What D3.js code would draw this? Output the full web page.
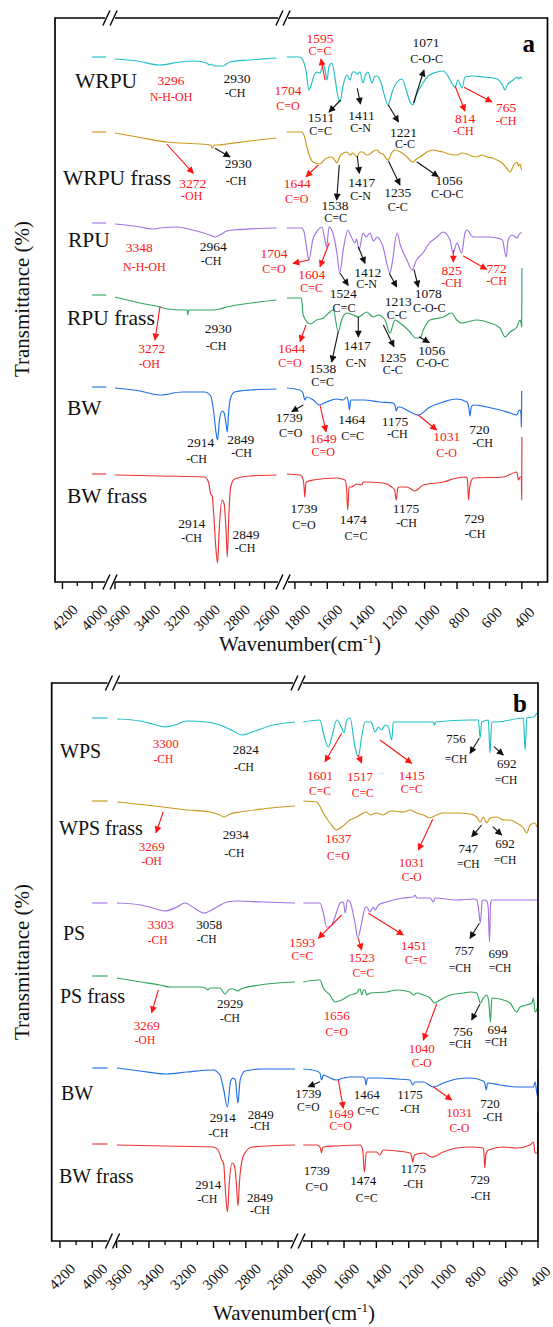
<!DOCTYPE html>
<html><head><meta charset="utf-8">
<script src="https://cdn.jsdelivr.net/npm/d3@7"></script>
<style>body{margin:0;background:#fff} svg{display:block} svg text{font-family:"Liberation Serif","DejaVu Serif",serif}</style>
</head><body><svg id="c" width="553" height="1327" font-family="Liberation Serif, DejaVu Serif, serif"></svg>
<script>
// ---------- data ----------
const tickMajor = [4200,4000,3600,3400,3200,3000,2800,2600,1800,1600,1400,1200,1000,800,600,400];
const tickMinorA = [4100,3500,3300,3100,2900,2700,1700,1500,1300,1100,900,700,500,300];
const tickMinorB = [4100,3500,3300,3100,2900,2700,1700,1500,1300,1100,900,700,500];
const seriesA = ["WRPU","WRPU frass","RPU","RPU frass","BW","BW frass"];
const seriesB = ["WPS","WPS frass","PS","PS frass","BW","BW frass"];
const offsetsA = [525,450,359,287,195,108];
const offsetsB = [523,440,338,265,173,97];

const aWRPU = [[4000,0],[3905,0],
 [3600,-2],[3450,-4],[3300,-8],[3167,-5],[3067,-4],[2987,-6],[2967,-8],[2955,-7],[2940,-9],[2880,-9],[2833,-5],[2700,-3],[2520,-1],
 [1850,0],[1770,0],[1751,-3],[1730,-15],[1714,-33],[1700,-28],[1680,-18],[1664,-15],[1645,-16],[1627,-8],[1615,-12],[1602,-23],[1590,-10],[1572,-6],[1555,-18],[1540,-35],[1522,-45],[1505,-30],[1479,-18],[1460,-23],[1445,-15],[1430,-15],[1415,-17],[1399,-15],[1380,-26],[1365,-18],[1349,-15],[1325,-26],[1310,-20],[1294,-19],[1270,-25],[1245,-40],[1226,-48],[1200,-35],[1170,-25],[1139,-22],[1115,-32],[1090,-45],[1072,-48],[1050,-38],[1010,-26],[970,-18],[923,-15],[886,-14],[860,-18],[843,-23],[812,-30],[794,-23],[769,-31],[751,-20],[700,-19],[640,-20],[580,-21],[553,-22],[520,-28],[504,-33],[490,-28],[454,-23],[430,-20],[420,-22],[410,-20],[400,-22]];
const aWRPUfrass = [[4000,0],[3905,0],
 [3600,-1],[3450,-5],[3253,-10],[3033,-12],[2960,-13],[2947,-16],[2935,-13],[2913,-13],[2853,-12],[2700,-9],[2520,-6],
 [1850,0],[1760,0],[1740,-5],[1726,-15],[1689,-30],[1646,-32],[1620,-28],[1602,-26],[1572,-25],[1555,-28],[1541,-31],[1525,-25],[1510,-22],[1479,-20],[1460,-23],[1442,-21],[1417,-25],[1400,-20],[1380,-20],[1360,-23],[1337,-22],[1315,-19],[1294,-18],[1275,-21],[1257,-22],[1226,-28],[1200,-20],[1183,-18],[1160,-19],[1139,-21],[1109,-25],[1072,-30],[1050,-27],[1028,-25],[985,-20],[948,-18],[920,-19],[886,-20],[850,-22],[800,-23],[770,-21],[738,-22],[710,-24],[677,-25],[650,-23],[615,-25],[580,-26],[553,-28],[530,-30],[516,-32],[490,-37],[473,-40],[450,-33],[430,-30],[420,-34],[411,-32],[405,-36],[400,-38]];
const aRPU = [[4000,0],[3905,0],
 [3600,-1],[3433,-4],[3353,-6],[3300,-5],[3187,-4],[3080,-7],[2967,-12],[2933,-14],[2887,-11],[2853,-8],[2813,-7],[2520,-5],
 [1850,-5],[1760,-5],[1745,-8],[1726,-27],[1714,-37],[1690,-17],[1658,-7],[1633,-4],[1615,-17],[1604,-24],[1590,-4],[1570,-8],[1541,-30],[1524,-50],[1500,-25],[1473,-7],[1460,-11],[1430,-20],[1420,-16],[1404,-27],[1380,-10],[1360,-14],[1337,-10],[1315,-18],[1294,-14],[1260,-22],[1213,-50],[1200,-40],[1170,-10],[1150,-22],[1109,-37],[1078,-47],[1050,-37],[1010,-30],[970,-20],[923,-14],[886,-9],[843,-17],[825,-30],[800,-20],[772,-30],[751,-10],[740,-7],[700,-14],[600,-14],[553,-15],[520,-17],[497,-34],[485,-17],[460,-12],[430,-15],[410,-10],[400,-10]];
const aRPUfrass = [[4000,0],[3905,0],
 [3600,-2],[3433,-8],[3300,-12],[3253,-14],[3133,-15],[3118,-15],[3113,-20],[3108,-15],[2947,-15],[2900,-14],[2853,-12],[2633,-7],[2520,-5],
 [1850,-3],[1760,-3],[1749,-20],[1707,-29],[1666,-25],[1625,-23],[1584,-17],[1563,-15],[1533,-37],[1512,-25],[1481,-18],[1440,-20],[1409,-22],[1357,-17],[1317,-22],[1286,-20],[1244,-25],[1214,-38],[1183,-25],[1152,-28],[1090,-37],[1056,-43],[1028,-43],[1008,-35],[967,-25],[885,-22],[833,-18],[802,-25],[771,-28],[740,-27],[678,-25],[596,-28],[535,-33],[504,-42],[473,-37],[431,-32],[411,-25],[403,-30],[401,-32],[400,27]];
const aBW = [[4000,0],[3905,0],
 [3600,-1],[3433,-4],[3300,-8],[3150,-5],[3000,-5],[2960,-9],[2940,-25],[2925,-45],[2914,-53],[2903,-35],[2885,-24],[2870,-26],[2858,-36],[2849,-45],[2840,-25],[2825,-10],[2800,-5],[2700,-3],[2520,-2],
 [1850,-1],[1769,-3],[1750,-6],[1739,-13],[1728,-10],[1687,-13],[1649,-18],[1605,-15],[1543,-12],[1502,-13],[1481,-10],[1470,-15],[1464,-23],[1456,-13],[1450,-13],[1378,-13],[1275,-15],[1193,-16],[1180,-20],[1175,-24],[1165,-20],[1152,-20],[1111,-23],[1039,-28],[967,-20],[885,-15],[802,-12],[740,-15],[728,-20],[720,-29],[712,-20],[699,-18],[617,-20],[535,-23],[473,-26],[431,-28],[420,-24],[411,-23],[405,-28],[403,-40],[401,-4]];
const aBWfrass = [[4000,0],[3905,0],
 [3600,-1],[3300,-2],[3000,-3],[2975,-8],[2960,-20],[2950,-22],[2940,-40],[2925,-75],[2914,-89],[2903,-55],[2885,-26],[2870,-30],[2858,-55],[2849,-83],[2840,-45],[2825,-12],[2800,-5],[2700,-2],[2520,-1],
 [1850,0],[1769,-1],[1755,-3],[1745,-10],[1739,-23],[1733,-10],[1728,-8],[1687,-6],[1543,-4],[1492,-6],[1482,-13],[1474,-36],[1466,-13],[1450,-13],[1420,-10],[1388,-11],[1378,-8],[1255,-9],[1203,-13],[1185,-16],[1175,-26],[1165,-14],[1152,-13],[1111,-13],[1059,-17],[1008,-11],[885,-8],[802,-4],[740,-3],[735,-8],[729,-26],[722,-13],[710,-6],[699,-4],[514,-3],[431,2],[421,-6],[411,-3],[403,-3],[401,-26],[400,37]];

const bWPS = [[4000,0],[3905,0],
 [3596,-1],[3456,-3],[3375,-6],[3300,-9],[3239,-7],[3166,-3],[3042,-4],[2960,-7],[2879,-13],[2824,-17],[2760,-14],[2631,-7],[2495,-4],
 [1852,-4],[1749,-2],[1728,-15],[1697,-29],[1676,-19],[1645,-2],[1614,-10],[1600,-15],[1583,-2],[1563,0],[1532,-29],[1512,-39],[1491,-19],[1470,-4],[1440,-4],[1429,-5],[1408,-14],[1388,-9],[1367,-12],[1346,-7],[1326,-9],[1305,-22],[1295,-4],[1047,-4],[1040,-7],[1033,-4],[820,-2],[769,-2],[758,-20],[748,-4],[707,-2],[697,-35],[686,-4],[655,-4],[490,0],[480,-32],[469,0],[428,1],[407,5]];
const bWPSfrass = [[4000,0],[3905,0],
 [3596,-1],[3313,-6],[3166,-9],[3022,-11],[2960,-14],[2934,-16],[2898,-13],[2835,-11],[2700,-8],[2495,-5],
 [1852,0],[1770,-1],[1728,-12],[1687,-22],[1645,-29],[1614,-26],[1563,-19],[1521,-16],[1480,-12],[1460,-11],[1439,-14],[1398,-12],[1357,-14],[1326,-11],[1295,-10],[1233,-11],[1192,-9],[1150,-12],[1109,-14],[1068,-17],[1027,-14],[986,-12],[903,-12],[820,-13],[779,-16],[758,-21],[738,-16],[717,-22],[697,-17],[655,-16],[614,-19],[573,-19],[532,-22],[490,-27],[470,-32],[449,-24],[418,-22],[407,-26]];
const bPS = [[4000,0],[3905,0],
 [3598,0],[3450,-2],[3375,-5],[3303,-8],[3226,-4],[3177,0],[3120,-5],[3058,-10],[2990,-5],[2916,1],[2850,2],[2700,1],[2495,0],
 [1852,0],[1749,0],[1728,-10],[1707,-24],[1687,-24],[1656,-14],[1624,0],[1604,1],[1593,-10],[1579,3],[1563,1],[1532,-20],[1515,-35],[1491,-20],[1470,-5],[1460,-4],[1439,-9],[1419,-4],[1408,-7],[1388,-2],[1336,1],[1233,5],[1171,6],[1161,8],[1150,5],[1068,5],[1047,1],[1037,5],[903,3],[799,4],[779,3],[769,-4],[757,-20],[745,2],[738,3],[717,2],[708,-5],[700,-39],[693,0],[686,3],[407,3]];
const bPSfrass = [[4000,0],[3905,0],
 [3598,-2],[3450,-6],[3332,-9],[3270,-11],[3084,-11],[3050,-12],[3035,-14],[3022,-12],[2960,-12],[2929,-18],[2900,-13],[2879,-13],[2850,-15],[2830,-13],[2712,-9],[2495,-6],
 [1852,-6],[1770,-4],[1749,-4],[1728,-12],[1687,-19],[1656,-26],[1614,-24],[1563,-19],[1521,-17],[1505,-13],[1500,-13],[1490,-19],[1480,-14],[1470,-14],[1460,-19],[1439,-17],[1336,-16],[1274,-14],[1192,-16],[1171,-19],[1150,-17],[1109,-19],[1068,-22],[1040,-27],[1006,-24],[944,-19],[861,-17],[820,-16],[779,-17],[756,-27],[738,-22],[717,-19],[705,-25],[694,-46],[686,-22],[614,-24],[573,-27],[532,-36],[511,-31],[469,-29],[438,-27],[428,-22],[418,-36],[401,-30],[400,14]];
const bBW = [[4000,0],[3905,0],
 [3598,0],[3456,-3],[3290,-6],[3166,-4],[3003,-2],[2960,-7],[2939,-20],[2914,-39],[2895,-14],[2879,-10],[2865,-12],[2849,-35],[2835,-12],[2805,-3],[2700,-1],[2495,-1],
 [1852,-1],[1770,-3],[1749,-5],[1739,-12],[1728,-7],[1697,-9],[1649,-12],[1604,-10],[1563,-9],[1480,-9],[1470,-11],[1464,-17],[1455,-10],[1378,-10],[1274,-11],[1192,-12],[1175,-17],[1161,-14],[1109,-14],[1047,-19],[986,-15],[903,-11],[820,-10],[738,-13],[728,-16],[720,-22],[712,-15],[634,-17],[532,-19],[449,-19],[428,-19],[418,-14],[407,-25],[403,-28],[400,-2]];
const bBWfrass = [[4000,0],[3905,0],
 [3598,-1],[3300,-2],[3003,-3],[2972,-6],[2949,-16],[2937,-20],[2925,-50],[2914,-68],[2903,-40],[2885,-19],[2870,-22],[2858,-40],[2849,-62],[2838,-35],[2820,-14],[2805,-9],[2760,-3],[2495,-1],
 [1852,-1],[1770,-1],[1749,-3],[1745,-5],[1739,-9],[1733,-4],[1728,-3],[1645,-2],[1500,-1],[1485,-5],[1474,-28],[1462,-8],[1398,-8],[1378,-11],[1357,-6],[1274,-7],[1192,-9],[1182,-12],[1175,-18],[1165,-11],[1109,-9],[1057,-13],[986,-8],[903,-4],[820,-3],[738,-4],[734,-10],[729,-24],[722,-10],[707,-6],[614,-3],[532,-4],[449,-1],[428,2],[418,-9],[402,-9],[400,31]];

const lineColors = ["#1fbfc6","#c9981a","#a272e4","#31a65e","#1f6fe6","#ee3434"];

// peak annotations: [number, x, y, group, x, y, colour]
const annA = [
 ["3296",171,85,"N-H-OH",171,100.7,"r"],["2930",237,83,"-CH",235,97,"k"],["1704",288,95,"C=O",288,110,"r"],
 ["1595",320,42.7,"C=C",320,55,"r"],["1511",321,121.7,"C=C",320.7,135,"k"],["1411",361.5,120,"C-N",360.7,131.7,"k"],
 ["1221",403.5,136.7,"C-C",405,148.3,"k"],["1071",426,46.7,"C-O-C",426.7,63.3,"k"],["814",465,123.3,"-CH",463.3,135,"r"],
 ["765",506,111.7,"-CH",506,125,"r"],
 ["3272",192.7,187.7,"-OH",191.7,200,"r"],["2930",238.3,168.3,"-CH",236,185,"k"],["1644",297.3,188.3,"C=O",296.7,203.3,"r"],
 ["1538",335,210,"C=C",335.7,221.7,"k"],["1417",361.7,186.7,"C-N",360.7,200,"k"],["1235",397.7,197.3,"C-C",397.7,210.7,"k"],
 ["1056",449,185,"C-O-C",447.3,198.3,"k"],
 ["3348",139.3,251.7,"N-H-OH",144.3,270.7,"r"],["2964",213.3,250.7,"-CH",211,265,"k"],["1704",274,258.3,"C=O",274,273.3,"r"],
 ["1604",311.7,279.3,"C=C",311.7,291.7,"r"],["1524",343.3,298,"C=C",344,312,"k"],["1412",367.7,276.7,"C-N",366.7,288.3,"k"],
 ["1213",398.3,305.5,"C-C",396.7,318.5,"k"],["1078",428.3,298.3,"C-O-C",429.3,311.7,"k"],["825",451.7,275,"-CH",451.7,286.7,"r"],
 ["772",496.7,273.3,"-CH",496.7,285,"r"],
 ["3272",151.7,353.3,"-OH",149.3,368.3,"r"],["2930",218.3,333.3,"-CH",216,350,"k"],["1644",291.7,352.7,"C=O",290,366.7,"r"],
 ["1538",322.7,372.7,"C=C",322.7,386,"k"],["1417",357.3,350,"C-N",356,366.7,"k"],["1235",392.7,361.7,"C-C",392.7,374,"k"],
 ["1056",431.7,355,"C-O-C",432.7,366.7,"k"],
 ["2914",200.7,446.7,"-CH",196.7,463.3,"k"],["2849",240.7,444,"-CH",241.7,456.7,"k"],["1739",289.3,421.7,"C=O",290.7,437.3,"k"],
 ["1649",323.3,442.7,"C=O",323.3,455.7,"r"],["1464",351.7,424,"C=C",352.7,440,"k"],["1175",395,426,"-CH",397.3,438.3,"k"],
 ["1031",446.7,440.7,"C-O",446.7,456.7,"r"],["720",479.3,434,"-CH",482.7,446.7,"k"],
 ["2914",191.7,528.3,"-CH",191.7,541.7,"k"],["2849",246,539.3,"-CH",245,551.7,"k"],["1739",304,513.3,"C=O",304,529.3,"k"],
 ["1474",353.3,524,"C=C",356,540,"k"],["1175",406,512.7,"-CH",406.7,526.7,"k"],["729",474,522.7,"-CH",475,538.3,"k"]
];
const annB = [
 ["3300",165.7,748.3,"-CH",163.3,762.7,"r"],["2824",245.7,754,"-CH",244,771,"k"],["1601",320,780,"C=C",320,795,"r"],
 ["1517",360,780.7,"C=C",362.7,796.7,"r"],["1415",411.7,780,"C=C",411.7,793.3,"r"],["756",456,743.3,"=CH",456,762.7,"k"],
 ["692",506.7,768.3,"=CH",506,784,"k"],
 ["3269",151.7,850.7,"-OH",151.7,865,"r"],["2934",235.7,839.3,"-CH",234.3,857.3,"k"],["1637",338.3,843.3,"C=O",338.3,860,"r"],
 ["1031",411.7,866.7,"C-O",411.7,880.7,"r"],["747",468.3,853.3,"=CH",468.3,868.3,"k"],["692",505,848.3,"=CH",505,864,"k"],
 ["3303",160.7,929.3,"-CH",157.7,944,"r"],["3058",209.3,929.3,"-CH",206.7,943.3,"k"],["1593",302.3,946.7,"C=C",302.3,960,"r"],
 ["1523",361.7,961.7,"C=C",363.3,976.7,"r"],["1451",414,950,"C=C",416,964,"r"],["757",464.3,955,"=CH",460,971.7,"k"],
 ["699",498.3,958.3,"=CH",500,971.7,"k"],
 ["3269",146.7,1030,"-OH",145,1044,"r"],["2929",230,1008.3,"-CH",230,1021.7,"k"],["1656",336.7,1020,"C=O",336.7,1036,"r"],
 ["1040",421.7,1052.7,"C-O",421.7,1067.3,"r"],["756",462.7,1036,"=CH",460,1048.3,"k"],["694",497.3,1034,"=CH",496,1046,"k"],
 ["2914",222.7,1121.7,"-CH",218.3,1137.3,"k"],["2849",260.7,1119,"-CH",260,1129.5,"k"],["1739",308.3,1098.3,"C=O",308.3,1110.7,"k"],
 ["1649",340.7,1117.7,"C=O",340.7,1130,"r"],["1464",366.7,1099.3,"C=C",368.3,1115,"k"],["1175",410,1099.3,"-CH",410,1112.7,"k"],
 ["1031",459.3,1116.7,"C-O",459.3,1131.7,"r"],["720",490,1108.3,"-CH",492.7,1120.7,"k"],
 ["2914",208.3,1189.3,"-CH",207.3,1202.7,"k"],["2849",260,1201.7,"-CH",260,1214,"k"],["1739",316.7,1175,"C=O",316.7,1190.7,"k"],
 ["1474",363.3,1185,"C=C",366.7,1201.7,"k"],["1175",413.3,1173.3,"-CH",413.3,1188.3,"k"],["729",480,1184,"-CH",480.7,1200,"k"]
];
// arrows: [x1,y1,x2,y2,colour]  (head at x2,y2)
const arrA = [
 [325,80,321,59,"r"],[340.7,100,329,112,"k"],[357.3,88.3,360.5,104,"k"],[388.3,105,398.5,122,"k"],[413.5,103,424,70,"k"],
 [455,86,465,111,"r"],[464,87.3,492,102,"r"],
 [166.7,144,193.3,173.3,"r"],[215,148.3,230,157,"k"],[318.3,165,306,176.7,"r"],[339.3,165,336.7,200,"k"],[357.3,156,359.3,173.3,"k"],
 [388.3,160.7,400,185,"k"],[416.7,161.7,438.3,176.7,"k"],
 [309.3,260,293,263.3,"r"],[329.3,242.7,320,266.7,"r"],[340,273.3,348.3,285.5,"k"],[358.3,246.7,365,263.3,"k"],
 [389.3,273.3,396.7,287,"k"],[414,269.3,418.3,287,"k"],[453.3,250,453.3,262,"r"],[463.3,256,486.7,269.3,"r"],
 [160,306.7,155,340,"r"],[306,325,300,341.7,"r"],[338.3,331.7,331.7,362,"k"],[358.3,316.7,358.3,337,"k"],[383.3,325,394,346.7,"k"],
 [419,336.7,429.3,342.7,"k"],
 [303.3,405,291.7,411.7,"k"],[320,405,326,431.7,"r"],[418.3,415,436.7,430,"r"]
];
const arrB = [
 [341.7,733.3,325,761.7,"r"],[358.3,755,361.7,763,"r"],[380,740,411.7,763.3,"r"],[479.3,738.3,470,753.3,"k"],[494,746.7,503.3,755,"k"],
 [163.3,811.7,156,832.7,"r"],[432.7,819.3,418.3,850,"r"],[481.7,825,471.7,836.7,"k"],[492.7,826.7,501.7,835,"k"],
 [341.7,915,318.3,938.3,"r"],[358.3,938.3,361.7,950,"r"],[368.3,913.3,403.3,935,"r"],[479.3,923.3,470,938.3,"k"],
 [158.3,990,151.7,1012.7,"r"],[436.7,1004,423.3,1040,"r"],[480,1004,471.7,1020,"k"],
 [320,1081.7,308.3,1086.7,"k"],[338.3,1080,343.3,1108.3,"r"],[433.3,1086.7,451.7,1100,"r"]
];

// ---------- drawing ----------
const FONT = "Liberation Serif, DejaVu Serif, serif";
const svg = d3.select("#c");
const ink = {r:"#ff1414", k:"#111"};
const defs = svg.append("defs");
Object.entries(ink).forEach(([k,c])=>{
  defs.append("marker").attr("id","ah"+k).attr("viewBox","0 0 10 10").attr("refX",9).attr("refY",5)
    .attr("markerWidth",8).attr("markerHeight",7).attr("markerUnits","userSpaceOnUse").attr("orient","auto")
    .append("path").attr("d","M0,0 L10,5 L0,10 z").attr("fill",c);
});

const panels = [
 {data:[aWRPU,aWRPUfrass,aRPU,aRPUfrass,aBW,aBWfrass], names:seriesA, offsets:offsetsA,
  l:55,t:18,r:547.5,b:582, yMax:564,
  segs:[[[4250,3880],[55,110]],[[3620,2470],[112,284]],[[1858,242],[285.5,547.5]]],
  breaks:[110,283], minors:tickMinorA, letter:"a", letterPos:[535,52],
  labels:[[75,88],[63,185],[68,247],[67,325],[67,415],[67,503]], labelSize:21.5,
  ann:annA, arr:arrA, numSize:13.5, grpSize:12, titleX:300, titleY:651, yTitleY:299},
 {data:[bWPS,bWPSfrass,bPS,bPSfrass,bBW,bBWfrass], names:seriesB, offsets:offsetsB,
  l:51.7,t:683,r:538,b:1241, yMax:558,
  segs:[[[4251,3880],[51.7,111.6]],[[3610,2480],[115,297.5]],[[1860,400],[302,538]]],
  breaks:[112.5,298], minors:tickMinorB, letter:"b", letterPos:[527,712],
  labels:[[60,758],[59,835],[63,940],[60,1003],[61,1100],[59,1183]], labelSize:20,
  ann:annB, arr:arrB, numSize:13, grpSize:11.5, titleX:294, titleY:1320, yTitleY:962}
];

panels.forEach(p=>{
  const g = svg.append("g").attr("font-family",FONT);
  const xs = p.segs.map(s=>d3.scaleLinear().domain(s[0]).range(s[1]));
  const segOf = w => w>=3850?0:(w>=2400?1:2);
  const X = w => xs[segOf(w)](w);
  const y = d3.scaleLinear().domain([0,p.yMax]).range([p.b,p.t]);

  p.data.forEach((arr,i)=>{
    const groups=[[],[],[]];
    arr.forEach(d=>groups[segOf(d[0])].push(d));
    groups.forEach((grp,k)=>{
      if(grp.length<2) return;
      const line = d3.line().x(d=>xs[k](d[0])).y(d=>y(p.offsets[i]+d[1])).curve(d3.curveMonotoneX);
      g.append("path").attr("d",line(grp)).attr("fill","none").attr("stroke",lineColors[i]).attr("stroke-width",1.15);
    });
    g.append("text").attr("x",p.labels[i][0]).attr("y",p.labels[i][1]).attr("font-family",FONT).attr("font-size",p.labelSize).attr("fill","#111").text(p.names[i]);
  });

  const sw=1.7, gap=5;
  const hline=(yy)=>{
    const xsN=[p.l, p.breaks[0]-gap, p.breaks[0]+gap, p.breaks[1]-gap, p.breaks[1]+gap, p.r];
    for(let k=0;k<3;k++) g.append("line").attr("x1",xsN[2*k]).attr("x2",xsN[2*k+1]).attr("y1",yy).attr("y2",yy).attr("stroke","#000").attr("stroke-width",sw);
    p.breaks.forEach(bx=>[-3.6,3.6].forEach(dx=>{
      g.append("line").attr("x1",bx+dx-3.5).attr("y1",yy+7.5).attr("x2",bx+dx+3.5).attr("y2",yy-7.5).attr("stroke","#000").attr("stroke-width",1.4);
    }));
  };
  hline(p.t); hline(p.b);
  g.append("line").attr("x1",p.l).attr("x2",p.l).attr("y1",p.t-sw/2).attr("y2",p.b+sw/2).attr("stroke","#000").attr("stroke-width",sw);
  g.append("line").attr("x1",p.r).attr("x2",p.r).attr("y1",p.t-sw/2).attr("y2",p.b+sw/2).attr("stroke","#000").attr("stroke-width",sw);

  tickMajor.forEach(w=>{
    const x=X(w);
    g.append("line").attr("x1",x).attr("x2",x).attr("y1",p.b).attr("y2",p.b+7).attr("stroke","#000").attr("stroke-width",1.4);
    g.append("text").attr("transform",`translate(${x+2},${p.b+35.5}) rotate(-45)`).attr("text-anchor","middle")
      .attr("dy","0.35em").attr("font-family",FONT).attr("font-size",15).attr("fill","#111").text(w);
  });
  p.minors.forEach(w=>{
    const x=X(w);
    g.append("line").attr("x1",x).attr("x2",x).attr("y1",p.b).attr("y2",p.b+4).attr("stroke","#000").attr("stroke-width",1.3);
  });

  const tt=g.append("text").attr("x",p.titleX).attr("y",p.titleY).attr("text-anchor","middle").attr("font-family",FONT).attr("font-size",21).attr("fill","#111");
  tt.append("tspan").text("Wavenumber(cm");
  tt.append("tspan").attr("font-size",13).attr("dy",-8).text("-1");
  tt.append("tspan").attr("dy",8).text(")");
  g.append("text").attr("transform",`translate(29,${p.yTitleY}) rotate(-90)`).attr("text-anchor","middle")
    .attr("font-family",FONT).attr("font-size",21).attr("fill","#111").text("Transmittance (%)");
  g.append("text").attr("x",p.letterPos[0]).attr("y",p.letterPos[1]).attr("text-anchor","end").attr("font-family",FONT).attr("font-size",25)
    .attr("font-weight","bold").attr("fill","#000").text(p.letter);

  p.arr.forEach(a=>{
    g.append("line").attr("x1",a[0]).attr("y1",a[1]).attr("x2",a[2]).attr("y2",a[3]).attr("stroke",ink[a[4]])
      .attr("stroke-width",1.1).attr("marker-end",`url(#ah${a[4]})`);
  });
  p.ann.forEach(a=>{
    g.append("text").attr("x",a[1]).attr("y",a[2]).attr("text-anchor","middle").attr("font-family",FONT).attr("font-size",p.numSize).attr("fill",ink[a[6]]).text(a[0]);
    g.append("text").attr("x",a[4]).attr("y",a[5]).attr("text-anchor","middle").attr("font-family",FONT).attr("font-size",p.grpSize).attr("fill",ink[a[6]]).text(a[3]);
  });
});
</script></body></html>
